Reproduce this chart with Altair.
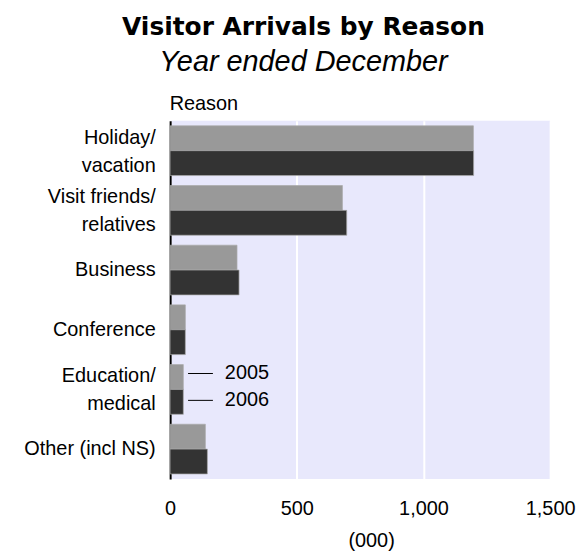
import altair as alt
import pandas as pd

reasons = ["Holiday/vacation", "Visit friends/relatives", "Business",
           "Conference", "Education/medical", "Other (incl NS)"]
years = ["2005", "2006"]
arrivals_2005 = [1197, 680, 264, 60, 52, 139]
arrivals_2006 = [1198, 697, 272, 60, 52, 147]
x_ticks = [0, 500, 1000, 1500]

rows = []
for r, a, b in zip(reasons, arrivals_2005, arrivals_2006):
    rows.append({"Reason": r, "Year": years[0], "Arrivals": a})
    rows.append({"Reason": r, "Year": years[1], "Arrivals": b})
df = pd.DataFrame(rows)

legend_df = pd.DataFrame({"Reason": ["Education/medical"] * 2, "Year": years, "Label": years})

label_expr = ("indexof(datum.label, '/') > 0 ? "
              "[slice(datum.label, 0, indexof(datum.label, '/') + 1), "
              "slice(datum.label, indexof(datum.label, '/') + 1)] : datum.label")

y_enc = alt.Y(
    "Reason:N", sort=reasons,
    scale=alt.Scale(paddingInner=1 / 6, paddingOuter=1 / 12),
    axis=alt.Axis(
        title="Reason", titleAngle=0, titleX=-1, titleY=-11, titleAlign="left",
        titleBaseline="alphabetic", titleFontWeight="normal", titleFontSize=20,
        titleColor="black", labelExpr=label_expr, labelFontSize=20,
        labelLineHeight=28,
        labelOffset={"condition": {"test": "indexof(datum.value, '/') > 0", "value": -13}, "value": 0},
        labelPadding=15, labelColor="black", ticks=False,
        domainColor="black", domainWidth=2, grid=False, labelLimit=300,
    ),
)
yoff_enc = alt.YOffset("Year:N", sort=years, scale=alt.Scale(paddingInner=0, paddingOuter=0))

bars = alt.Chart(df).mark_bar(stroke="#aaaaaa", strokeWidth=1, strokeOpacity=0.7).encode(
    x=alt.X(
        "Arrivals:Q", scale=alt.Scale(domain=[0, 1500], nice=False),
        axis=alt.Axis(
            values=x_ticks, format=",.0f", title="(000)", ticks=False, domain=False,
            gridColor="white", gridWidth=2, labelFontSize=20, labelPadding=20,
            labelFlush=False, labelColor="black", titleFontSize=20,
            titleFontWeight="normal", titleColor="black", titleX=202, titlePadding=12,
        ),
    ),
    y=y_enc,
    yOffset=yoff_enc,
    color=alt.Color("Year:N", scale=alt.Scale(domain=years, range=["#999999", "#333333"]), legend=None),
)

# legend annotation next to the Education/medical bars
annot = []
for yr, off in zip(years, [-16, 11]):
    sub = legend_df[legend_df["Year"] == yr]
    annot.append(
        alt.Chart(sub).mark_rule(color="black", strokeWidth=1, yOffset=off).encode(
            x=alt.value(18), x2=alt.value(43),
            y=alt.Y("Reason:N", sort=reasons),
        )
    )
    annot.append(
        alt.Chart(sub).mark_text(
            align="left", baseline="middle", yOffset=off, fontSize=20, color="black"
        ).encode(
            x=alt.value(55),
            y=alt.Y("Reason:N", sort=reasons),
            text="Label:N",
        )
    )

chart = alt.layer(bars, *annot).properties(
    width=382, height=360,
    title=alt.Title(
        "Visitor Arrivals by Reason", subtitle="Year ended December",
        font="DejaVu Sans", fontSize=25, fontWeight="bold", color="black",
        subtitleFont="Liberation Sans", subtitleFontSize=29, subtitleFontStyle="italic",
        subtitleColor="black", subtitlePadding=8, anchor="middle", frame="group",
        dx=-57, offset=17,
    ),
    autosize=alt.AutoSizeParams(type="none"),
    padding={"left": 163, "top": 112, "right": 28, "bottom": 74},
).configure(font="Liberation Sans").configure_view(fill="#E8E8FC", stroke=None)

chart.save("out.html", embed_options={"renderer": "svg", "actions": False})
